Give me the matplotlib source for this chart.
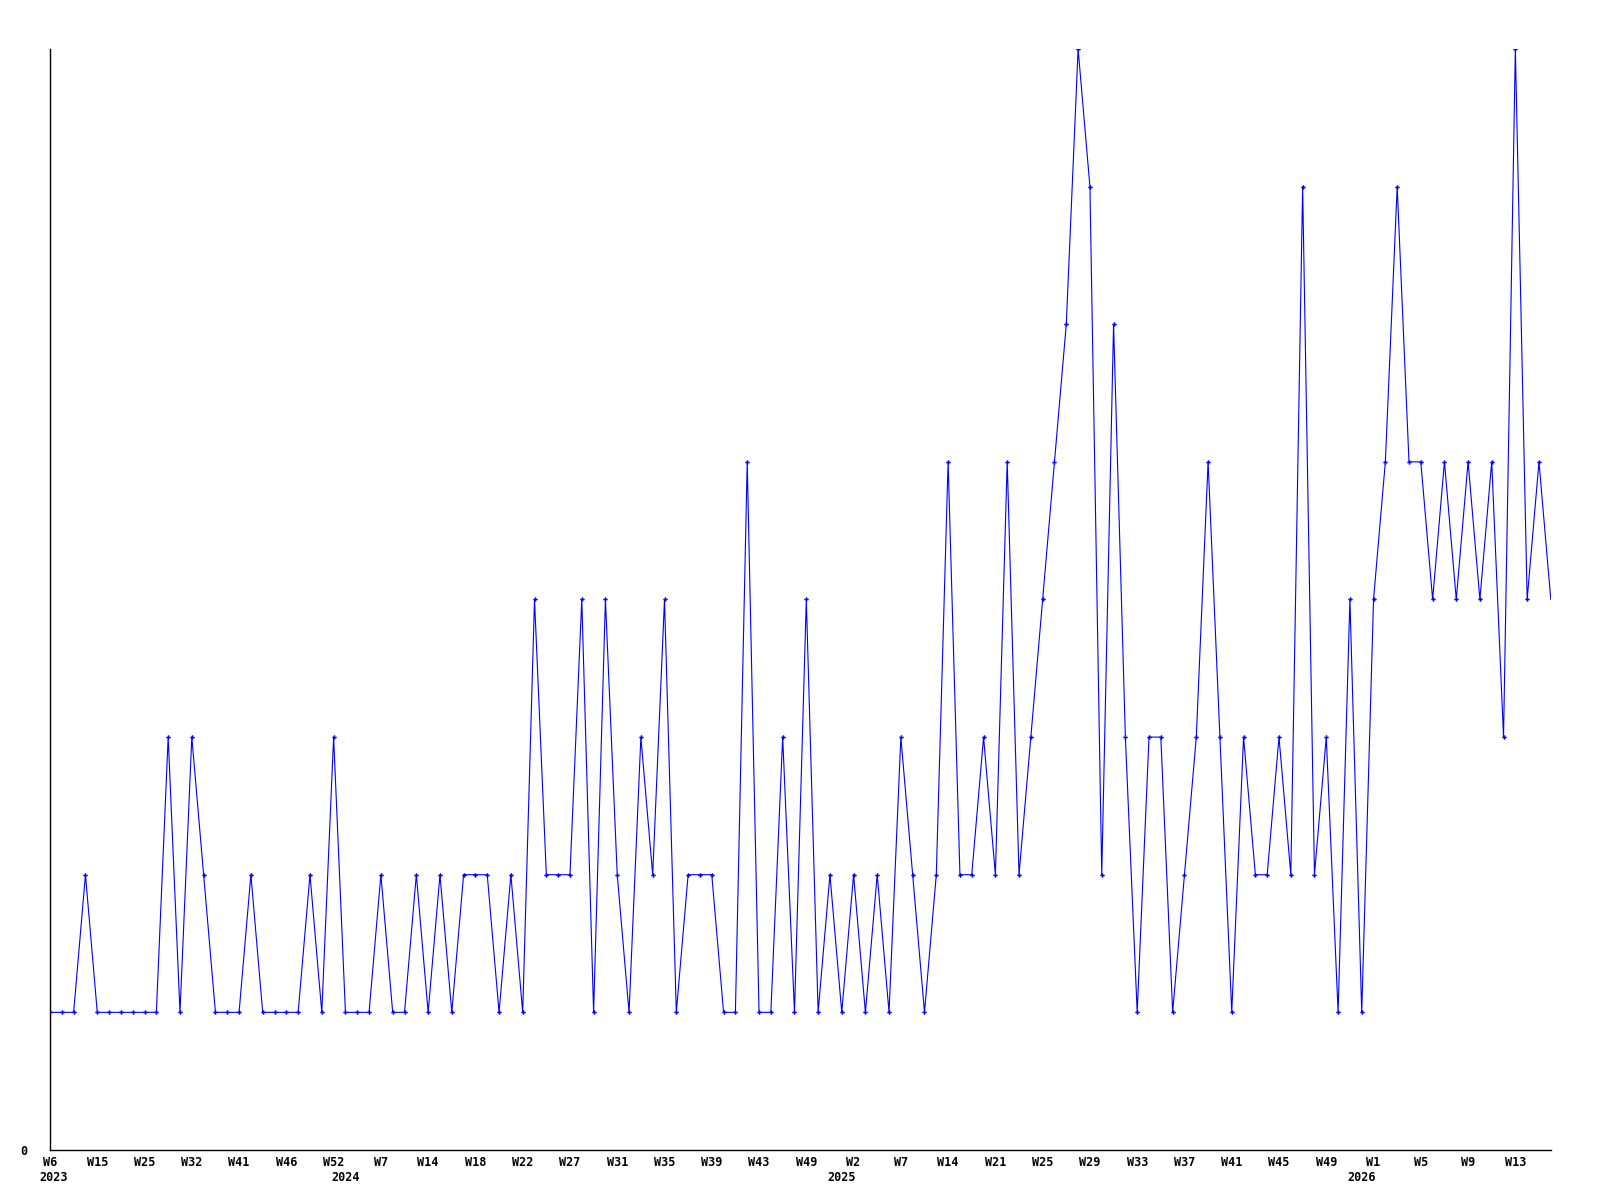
import matplotlib
matplotlib.use('Agg')
import matplotlib.pyplot as plt
import numpy as np

# weekly counts (one point per sample)
values = [1, 1, 1, 2, 1, 1, 1, 1, 1, 1,
          3, 1, 3, 2, 1, 1, 1, 2, 1, 1,
          1, 1, 2, 1, 3, 1, 1, 1, 2, 1,
          1, 2, 1, 2, 1, 2, 2, 2, 1, 2,
          1, 4, 2, 2, 2, 4, 1, 4, 2, 1,
          3, 2, 4, 1, 2, 2, 2, 1, 1, 5,
          1, 1, 3, 1, 4, 1, 2, 1, 2, 1,
          2, 1, 3, 2, 1, 2, 5, 2, 2, 3,
          2, 5, 2, 3, 4, 5, 6, 8, 7, 2,
          6, 3, 1, 3, 3, 1, 2, 3, 5, 3,
          1, 3, 2, 2, 3, 2, 7, 2, 3, 1,
          4, 1, 4, 5, 7, 5, 5, 4, 5, 4,
          5, 4, 5, 3, 8, 4, 5, 4]

week_labels = ['W6', 'W15', 'W25', 'W32', 'W41', 'W46', 'W52', 'W7',
               'W14', 'W18', 'W22', 'W27', 'W31', 'W35', 'W39', 'W43',
               'W49', 'W2', 'W7', 'W14', 'W21', 'W25', 'W29', 'W33',
               'W37', 'W41', 'W45', 'W49', 'W1', 'W5', 'W9', 'W13']
tick_step = 4

years = ['2023', '2024', '2025', '2026']
year_start = [0.3, 25, 67, 111]

x = np.arange(len(values))

fig = plt.figure(figsize=(16, 12), dpi=100)
ax = fig.add_axes([0.03125, 0.0417, 0.938, 0.9175])

ax.plot(x, values, color='#0000ff', linewidth=0.8,
        marker='P', markersize=3.2, markeredgewidth=0,
        markevery=list(range(len(values) - 1)))

ax.set_xlim(0, len(values) - 1)
ax.set_ylim(0, 8)

for side in ['top', 'right']:
    ax.spines[side].set_visible(False)
for side in ['left', 'bottom']:
    ax.spines[side].set_color('black')
    ax.spines[side].set_linewidth(1.0)

font = dict(family='DejaVu Sans Mono', weight='bold', size=8.5)

ax.set_yticks([0])
ax.set_yticklabels(['0'], fontdict=font)
ax.tick_params(axis='y', length=0, pad=16)

ax.set_xticks(x[::tick_step][:len(week_labels)])
ax.set_xticklabels(week_labels, fontdict=font)
ax.tick_params(axis='x', length=0, pad=4)

for yr, pos in zip(years, year_start):
    ax.annotate(yr, xy=(pos, 0), xycoords=('data', 'axes fraction'),
                xytext=(0, -15), textcoords='offset points',
                ha='center', va='top', **font)

fig.savefig('out.png', dpi=100)
